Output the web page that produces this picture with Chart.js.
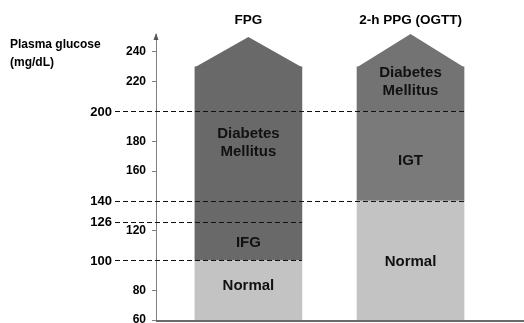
<!DOCTYPE html>
<html><head><meta charset="utf-8">
<script src="https://cdn.jsdelivr.net/npm/chart.js@4/dist/chart.umd.min.js"></script>
<style>html,body{margin:0;padding:0;background:#fff}#wrap{width:524px;height:323px}</style>
</head><body><div id="wrap"><canvas id="c" width="524" height="323"></canvas></div>
<script>
// ---- data ----
const columns = ['FPG', '2-h PPG (OGTT)'];
const normalRange = [[60, 100], [60, 140]];
const middleRange = [[100, 126], [140, 200]];
const upperRange = [[126, 230], [200, 230]];
const arrowTip = [250, 252];
const normalLabels = ['Normal', 'Normal'];
const middleLabels = ['IFG', 'IGT'];
const upperLabels = [['Diabetes', 'Mellitus'], ['Diabetes', 'Mellitus']];
const normalLabelAt = [83, 99];
const middleLabelAt = [112, 167];
const upperLabelAt = [179, 220];
const tickValues = [60, 80, 120, 160, 180, 220, 240];
const thresholds = [200, 140, 126, 100];
const thresholdReach = [1, 1, 0, 0];
const yTitle = ['Plasma glucose', '(mg/dL)'];

// ---- styles ----
const FONT = '"Liberation Sans", Arial, sans-serif';
const normalColors = ['#c3c3c3', '#c3c3c3'];
const middleColors = ['#696969', '#7a7a7a'];
const upperColors = ['#696969', '#737373'];

const toPts = arr => arr.map((r, i) => ({ x: i, y: r }));

const overlay = {
  id: 'overlay',
  afterDatasetsDraw(chart) {
    const ctx = chart.ctx;
    const ys = chart.scales.y;
    const ca = chart.chartArea;
    const metaN = chart.getDatasetMeta(0);
    const metaU = chart.getDatasetMeta(2);
    ctx.save();
    // arrow heads on top of bars
    columns.forEach((c, i) => {
      const b = metaU.data[i];
      const w = b.width;
      ctx.beginPath();
      ctx.moveTo(b.x - w / 2, b.y + 0.5);
      ctx.lineTo(b.x, ys.getPixelForValue(arrowTip[i]));
      ctx.lineTo(b.x + w / 2, b.y + 0.5);
      ctx.closePath();
      ctx.fillStyle = upperColors[i];
      ctx.fill();
    });
    // dashed threshold lines
    ctx.setLineDash([5, 3]);
    ctx.strokeStyle = '#111';
    ctx.lineWidth = 1;
    thresholds.forEach((t, k) => {
      const y = Math.round(ys.getPixelForValue(t)) + 0.5;
      const b = metaU.data[thresholdReach[k]];
      ctx.beginPath();
      ctx.moveTo(115, y);
      ctx.lineTo(b.x + b.width / 2, y);
      ctx.stroke();
    });
    ctx.setLineDash([]);
    // threshold labels
    ctx.fillStyle = '#000';
    ctx.font = 'bold 13px ' + FONT;
    ctx.textAlign = 'right';
    ctx.textBaseline = 'middle';
    thresholds.forEach(t => {
      ctx.fillText(String(t), 112, ys.getPixelForValue(t) + 1);
    });
    // bar labels
    ctx.fillStyle = '#111';
    ctx.textAlign = 'center';
    ctx.font = 'bold 15px ' + FONT;
    columns.forEach((c, i) => {
      const x = metaN.data[i].x;
      ctx.fillText(normalLabels[i], x, ys.getPixelForValue(normalLabelAt[i]));
      ctx.fillText(middleLabels[i], x, ys.getPixelForValue(middleLabelAt[i]));
      const yc = ys.getPixelForValue(upperLabelAt[i]);
      ctx.fillText(upperLabels[i][0], x, yc - 9);
      ctx.fillText(upperLabels[i][1], x, yc + 9);
    });
    // column titles
    ctx.fillStyle = '#000';
    ctx.font = 'bold 13.5px ' + FONT;
    columns.forEach((c, i) => {
      ctx.fillText(c, metaN.data[i].x, 20);
    });
    // y title
    ctx.textAlign = 'left';
    ctx.font = 'bold 12px ' + FONT;
    ctx.fillText(yTitle[0], 10, 45);
    ctx.fillText(yTitle[1], 10, 63);
    // x axis line
    ctx.strokeStyle = '#6a6a6a';
    ctx.lineWidth = 2;
    ctx.beginPath();
    ctx.moveTo(ca.left, ca.bottom + 1);
    ctx.lineTo(chart.width, ca.bottom + 1);
    ctx.stroke();
    // y axis arrow head
    ctx.fillStyle = '#555';
    ctx.beginPath();
    ctx.moveTo(ca.left - 2.5, ca.top + 6);
    ctx.lineTo(ca.left, ca.top - 1);
    ctx.lineTo(ca.left + 2.5, ca.top + 6);
    ctx.closePath();
    ctx.fill();
    ctx.restore();
  }
};

new Chart(document.getElementById('c'), {
  type: 'bar',
  data: {
    datasets: [
      { label: 'Normal', data: toPts(normalRange), backgroundColor: normalColors },
      { label: 'Impaired', data: toPts(middleRange), backgroundColor: middleColors },
      { label: 'Diabetes Mellitus', data: toPts(upperRange), backgroundColor: upperColors }
    ]
  },
  options: {
    responsive: false,
    animation: false,
    devicePixelRatio: 1,
    datasets: { bar: { grouped: false, barThickness: 107, borderWidth: 0 } },
    layout: { padding: { top: 34, bottom: 3, left: 0, right: 0 } },
    plugins: { legend: { display: false }, tooltip: { enabled: false }, title: { display: false } },
    scales: {
      x: { type: 'linear', display: false, min: -0.57, max: 1.70, offset: false },
      y: {
        min: 60, max: 252,
        afterBuildTicks(s) { s.ticks = tickValues.map(v => ({ value: v })); },
        afterFit(s) { s.width = 156; s.paddingTop = 0; s.paddingBottom = 0; },
        ticks: { color: '#000', font: { family: FONT, size: 12, weight: 'bold' }, padding: 6 },
        grid: { drawOnChartArea: false, tickLength: 4, color: '#808080' },
        border: { color: '#808080', width: 1 }
      }
    }
  },
  plugins: [overlay]
});
</script>
</body></html>
